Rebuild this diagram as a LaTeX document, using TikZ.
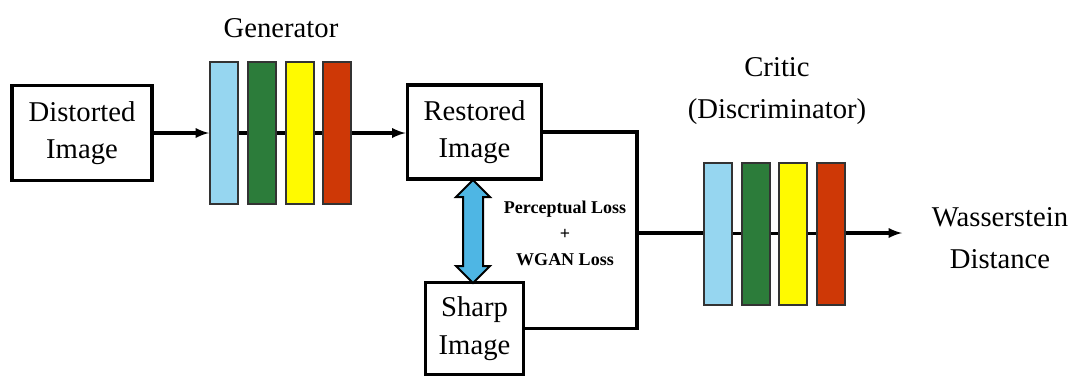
\documentclass[tikz,border=0pt]{standalone}
\usepackage{fontspec}
\setmainfont{Liberation Serif}
\usepackage{xcolor}
\usepackage{tikz}
\usetikzlibrary{positioning}
\usetikzlibrary{arrows}
\definecolor{layerblue}{RGB}{150,214,240}
\definecolor{layergreen}{RGB}{44,124,58}
\definecolor{layeryellow}{RGB}{255,250,0}
\definecolor{layerred}{RGB}{206,56,6}
\definecolor{lossblue}{RGB}{78,182,228}
\newcommand{\lwidth}{21pt}
\newcommand{\lheight}{106.5pt}
\tikzset{
	imgbox/.style={draw, line width=2.4pt, align=center, font=\fontsize{21.5}{25}\selectfont, inner sep=0pt},
	layer/.style={draw=black!80, line width=1.5pt, minimum width=\lwidth, minimum height=\lheight, inner sep=0pt},
	lbl/.style={align=center, font=\fontsize{21.5}{32}\selectfont},
	wire/.style={line width=2.4pt},
	flow/.style={wire, -latex}
}

\begin{document}
\begin{tikzpicture}[x=0.75pt, y=-0.75pt]
	\useasboundingbox (0,0) rectangle (1078,376);

	% generator side
	\node[imgbox, minimum width=105pt, minimum height=71pt] (dist) at (82,133) {Distorted\\[3pt]Image};
	\node[layer, fill=layerblue]	(g1) at (224,133) {};
	\node[layer, fill=layergreen]	(g2) at (262,133) {};
	\node[layer, fill=layeryellow]	(g3) at (299.5,133) {};
	\node[layer, fill=layerred]		(g4) at (337,133) {};
	\node[lbl] (gen) at (281,28) {Generator};
	\node[imgbox, minimum width=101pt, minimum height=70.5pt] (rest) at (474.5,132) {Restored\\[3pt]Image};
	\node[imgbox, minimum width=73pt, minimum height=69pt] (sharp) at (474.5,328.5) {Sharp\\[3pt]Image};

	\draw[flow] (dist) -- (g1);
	\draw[wire] (g1) -- (g2);
	\draw[wire] (g2) -- (g3);
	\draw[wire] (g3) -- (g4);
	\draw[flow] (g4) -- (rest.west |- g4.east);

	% loss between restored and sharp
	\draw[fill=lossblue, line width=1.5pt]	(473,180) -- (490,197) -- (483,197) -- (483,266) -- (490,266) -- (473,283)
							-- (456,266) -- (463,266) -- (463,197) -- (456,197) -- cycle;
	\node[align=center, font=\bfseries\fontsize{13.5}{19.5}\selectfont] (loss) at (565,233) {Perceptual Loss\\+\\WGAN Loss};

	% critic side
	\coordinate (jn) at (637,233);
	\draw[wire] (rest.east) -| (jn) |- (sharp.east);
	\node[layer, fill=layerblue]	(c1) at (718,233.5) {};
	\node[layer, fill=layergreen]	(c2) at (756,233.5) {};
	\node[layer, fill=layeryellow]	(c3) at (792.5,233.5) {};
	\node[layer, fill=layerred]		(c4) at (831,233.5) {};
	\node[lbl] (critic) at (777,91) {Critic\\(Discriminator)};
	\coordinate (wend) at (902,233);
	\node[lbl] (wdist) at (1000,238) {Wasserstein\\Distance};

	\draw[wire] (jn) -- (c1.west |- jn);
	\draw[wire] (c1) -- (c2);
	\draw[wire] (c2) -- (c3);
	\draw[wire] (c3) -- (c4);
	\draw[flow] (c4.east |- jn) -- (wend);
\end{tikzpicture}
\end{document}
